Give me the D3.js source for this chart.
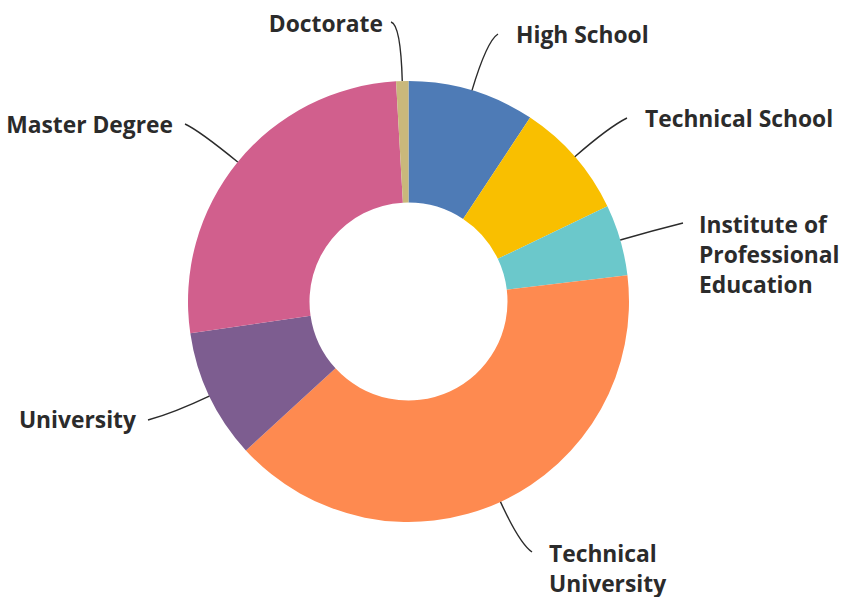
<!DOCTYPE html>
<html>
<head>
<meta charset="utf-8">
<script src="https://cdn.jsdelivr.net/npm/d3@7"></script>
<style>
  html, body { margin: 0; padding: 0; background: #fff; }
  svg { display: block; }
  text { font-family: "Open Sans", Lato, sans-serif; font-weight: 700; fill: #2b2b2b; }
</style>
</head>
<body>
<svg id="chart" width="843" height="597"></svg>
<script>
// Education level breakdown (share of respondents, %)
const categories = [
  "High School",
  "Technical School",
  "Institute of Professional Education",
  "Technical University",
  "University",
  "Master Degree",
  "Doctorate"
];
const shares = [9.3, 8.6, 5.2, 40.1, 9.5, 26.4, 0.9];
const colors = ["#4e7bb6", "#f9bf00", "#6bc8cb", "#fe8a50", "#7d5d90", "#d15f8d", "#c9b87b"];

// label lines (text broken over several lines where needed)
const labelLines = [
  ["High School"],
  ["Technical School"],
  ["Institute of", "Professional", "Education"],
  ["Technical", "University"],
  ["University"],
  ["Master Degree"],
  ["Doctorate"]
];

// label placement: anchor point, text-anchor, leader end offset, bend radius
const labelLayout = [
  { x: 516, y: 43,  anchor: "start", ex: -18, ey: -9,  bend: 272 },
  { x: 645, y: 127, anchor: "start", ex: -18, ey: -9,  bend: 266 },
  { x: 699, y: 233, anchor: "start", ex: -16, ey: -10, bend: 253 },
  { x: 549, y: 562, anchor: "start", ex: -17, ey: -10, bend: 266 },
  { x: 136, y: 428, anchor: "end",   ex: 12,  ey: -8,  bend: 259 },
  { x: 173, y: 133, anchor: "end",   ex: 12,  ey: -9,  bend: 270 },
  { x: 383, y: 32,  anchor: "end",   ex: 8,   ey: -10, bend: 277 }
];

const cx = 408.5, cy = 301.5;
const outerR = 220.5, innerR = 99;
const lineHeight = 30;

const data = categories.map((c, i) => ({ name: c, value: shares[i], color: colors[i], lines: labelLines[i], layout: labelLayout[i] }));

const svg = d3.select("#chart");
const g = svg.append("g").attr("transform", `translate(${cx},${cy})`);

const pie = d3.pie().sort(null).value(d => d.value).startAngle(0).endAngle(2 * Math.PI);
const arc = d3.arc().innerRadius(innerR).outerRadius(outerR);
const arcs = pie(data);

g.selectAll("path.slice")
  .data(arcs)
  .join("path")
  .attr("class", "slice")
  .attr("d", arc)
  .attr("fill", d => d.data.color);

// point on the ray at a given radius (angle measured clockwise from 12 o'clock)
function polar(angle, r) {
  return [r * Math.sin(angle), -r * Math.cos(angle)];
}

// leader lines: from the slice's outer edge, bending outwards, to the label
g.selectAll("path.leader")
  .data(arcs)
  .join("path")
  .attr("class", "leader")
  .attr("fill", "none")
  .attr("stroke", "#2b2b2b")
  .attr("stroke-width", 1.4)
  .attr("d", d => {
    const mid = (d.startAngle + d.endAngle) / 2;
    const L = d.data.layout;
    const p0 = polar(mid, outerR);
    const c = polar(mid, L.bend);
    const p2 = [L.x + L.ex - cx, L.y + L.ey - cy];
    return `M${p0[0]},${p0[1]}Q${c[0]},${c[1]} ${p2[0]},${p2[1]}`;
  });

// labels
const labels = svg.selectAll("text.label")
  .data(data)
  .join("text")
  .attr("class", "label")
  .attr("font-size", 22.8)
  .attr("text-anchor", d => d.layout.anchor);

labels.selectAll("tspan")
  .data(d => d.lines.map((t, i) => ({ t, i, L: d.layout })))
  .join("tspan")
  .attr("x", d => d.L.x)
  .attr("y", d => d.L.y + d.i * lineHeight)
  .text(d => d.t);
</script>
</body>
</html>
